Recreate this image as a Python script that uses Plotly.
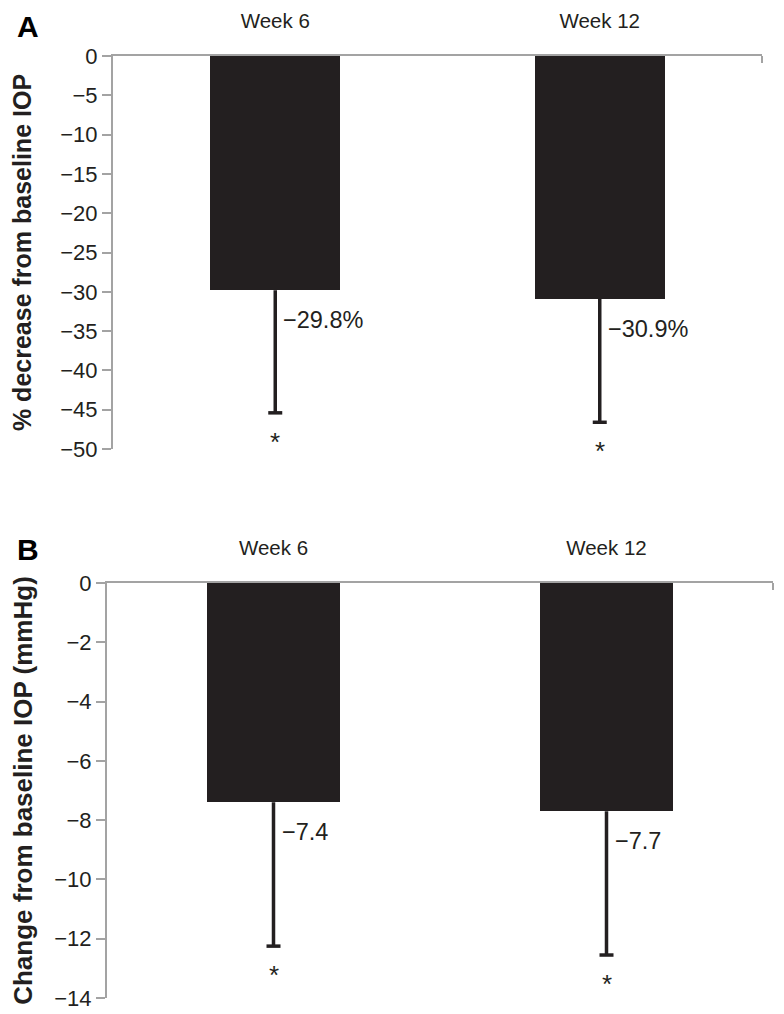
import plotly.graph_objects as go

categories = ["Week 6", "Week 12"]
pct_change = [-29.8, -30.9]
pct_sd = [15.6, 15.7]
pct_labels = ["\u221229.8%", "\u221230.9%"]
mmhg_change = [-7.4, -7.7]
mmhg_sd = [4.85, 4.85]
mmhg_labels = ["\u22127.4", "\u22127.7"]
sig_marks = ["*", "*"]

pct_ticks = list(range(0, -55, -5))
mmhg_ticks = list(range(0, -16, -2))

BAR = "#231f20"
AXIS = "#a3a3a3"
TXT = "#231f20"
FONT = "Arial, Liberation Sans, sans-serif"

# page body has an 8px margin; figure sized to fill the remaining window
OFF = 8
W, H = 784 - OFF, 1014 - OFF
def px(x):
    return (x - OFF) / W
def py(y):
    return 1 - (y - OFF) / H

xpos = list(range(len(categories)))

fig = go.Figure()

def add_panel(vals, sds, labels, xa, ya):
    fig.add_trace(go.Bar(x=xpos, y=vals, width=0.4, marker=dict(color=BAR, line=dict(width=0)),
                         xaxis=xa, yaxis=ya, showlegend=False, hoverinfo="skip"))
    ex, ey = [], []
    for x, v, s in zip(xpos, vals, sds):
        ex += [x, x, None]
        ey += [v, v - s, None]
    fig.add_trace(go.Scatter(x=ex, y=ey, mode="lines", line=dict(color=BAR, width=3.5),
                             xaxis=xa, yaxis=ya, showlegend=False, hoverinfo="skip"))
    fig.add_trace(go.Scatter(x=xpos, y=[v - s for v, s in zip(vals, sds)], mode="markers",
                             marker=dict(symbol="line-ew", size=10, line=dict(color=BAR, width=3.5)),
                             xaxis=xa, yaxis=ya, showlegend=False, hoverinfo="skip"))
    for x, v, s, lab, m in zip(xpos, vals, sds, labels, sig_marks):
        fig.add_annotation(x=x, y=v, xref=xa, yref=ya, text=lab, showarrow=False,
                           xanchor="left", yanchor="middle", xshift=6, yshift=-30,
                           font=dict(family=FONT, size=23.5, color=TXT))
        fig.add_annotation(x=x, y=v - s, xref=xa, yref=ya, text=m, showarrow=False,
                           xanchor="center", yanchor="middle", yshift=-29,
                           font=dict(family=FONT, size=26, color=TXT))
    fig.add_shape(type="line", xref=xa + " domain", yref=ya, xsizemode="scaled",
                  ysizemode="pixel", yanchor=0, x0=1, x1=1, y0=0, y1=-7,
                  line=dict(color=AXIS, width=2))

add_panel(pct_change, pct_sd, pct_labels, "x", "y")
add_panel(mmhg_change, mmhg_sd, mmhg_labels, "x2", "y2")

xcommon = dict(type="linear", range=[-0.5, 1.5], side="top", showline=True, linecolor=AXIS,
               linewidth=2, ticks="", tickvals=xpos, ticktext=categories, showgrid=False,
               zeroline=False, ticklabelstandoff=18, automargin=False,
               tickfont=dict(family=FONT, size=20.5, color=TXT))
ycommon = dict(showline=True, linecolor=AXIS, linewidth=2, ticks="outside", ticklen=9,
               tickwidth=2, tickcolor=AXIS, showgrid=False, zeroline=False, automargin=False,
               tickfont=dict(family=FONT, size=22, color=TXT))

fig.update_layout(
    width=W, height=H, autosize=False, margin=dict(l=0, r=0, t=0, b=0, pad=0),
    paper_bgcolor="white", plot_bgcolor="white", bargap=0,
    xaxis=dict(**xcommon, domain=[px(113), px(762)], anchor="y"),
    yaxis=dict(**ycommon, domain=[py(449), py(56)], range=[-50, 0],
               tickvals=pct_ticks, anchor="x",
               title=dict(text="<b>% decrease from baseline IOP</b>", standoff=22,
                          font=dict(family=FONT, size=25, color=TXT))),
    xaxis2=dict(**xcommon, domain=[px(107), px(773)], anchor="y2"),
    yaxis2=dict(**ycommon, domain=[py(998), py(583)], range=[-14, 0],
                tickvals=mmhg_ticks, anchor="x2",
                title=dict(text="<b>Change from baseline IOP (mmHg)</b>", standoff=22,
                           font=dict(family=FONT, size=26, color=TXT))),
)

fig.add_annotation(x=px(28), y=1, xref="paper", yref="paper", text="<b>A</b>",
                   showarrow=False, xanchor="center", yanchor="top",
                   font=dict(family=FONT, size=30, color="black"))
fig.add_annotation(x=px(28), y=py(549), xref="paper", yref="paper", text="<b>B</b>",
                   showarrow=False, xanchor="center", yanchor="middle",
                   font=dict(family=FONT, size=30, color="black"))

fig.write_html("out.html")
